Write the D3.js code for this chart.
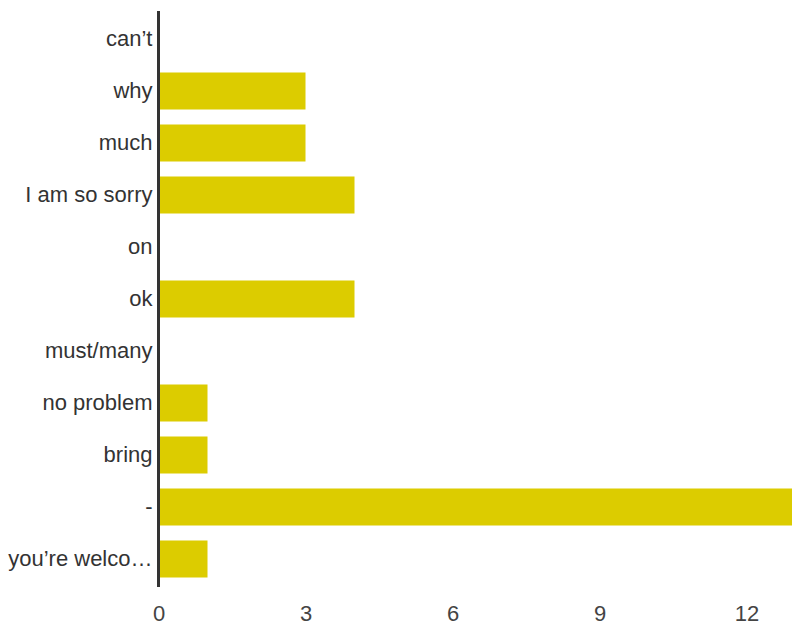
<!DOCTYPE html>
<html>
<head>
<meta charset="utf-8">
<script src="https://cdn.jsdelivr.net/npm/d3@7"></script>
<style>
  html, body { margin: 0; padding: 0; background: #fff; }
  svg { display: block; }
  text { font-family: "Liberation Sans", Arial, sans-serif; }
</style>
</head>
<body>
<div id="chart"></div>
<script>
const categories = ["can’t", "why", "much", "I am so sorry", "on", "ok", "must/many", "no problem", "bring", "-", "you’re welco…"];
const values = [0, 3, 3, 4, 0, 4, 0, 1, 1, 13, 1];
const xTicks = [0, 3, 6, 9, 12];

const W = 792, H = 626;
const svg = d3.select("#chart").append("svg").attr("width", W).attr("height", H);

const x = d3.scaleLinear().domain([0, 13]).range([158.5, 158.5 + 13 * 49]);
const y = d3.scaleBand().domain(categories).range([13, 585]).paddingInner(0.2885).paddingOuter(0.14425);

const rows = categories.map((c, i) => ({ c, v: values[i] }));

svg.append("g").selectAll("rect").data(rows).join("rect")
  .attr("x", x(0))
  .attr("y", d => y(d.c))
  .attr("width", d => x(d.v) - x(0))
  .attr("height", y.bandwidth())
  .attr("fill", "#dccc00");

const yAxis = svg.append("g").attr("transform", `translate(${x(0)},0)`)
  .call(d3.axisLeft(y).tickSize(0).tickPadding(6));
yAxis.select(".domain").remove();
yAxis.selectAll("text").attr("font-size", 22).attr("fill", "#333").attr("font-family", "'Liberation Sans', Arial, sans-serif");

const xAxis = svg.append("g").attr("transform", `translate(0,601)`)
  .call(d3.axisBottom(x).tickValues(xTicks).tickSize(0).tickPadding(4).tickFormat(d3.format("d")));
xAxis.select(".domain").remove();
xAxis.selectAll("text").attr("font-size", 22).attr("fill", "#444").attr("font-family", "'Liberation Sans', Arial, sans-serif");

svg.append("line")
  .attr("x1", x(0)).attr("x2", x(0))
  .attr("y1", 11).attr("y2", 587)
  .attr("stroke", "#333").attr("stroke-width", 3);
</script>
</body>
</html>
